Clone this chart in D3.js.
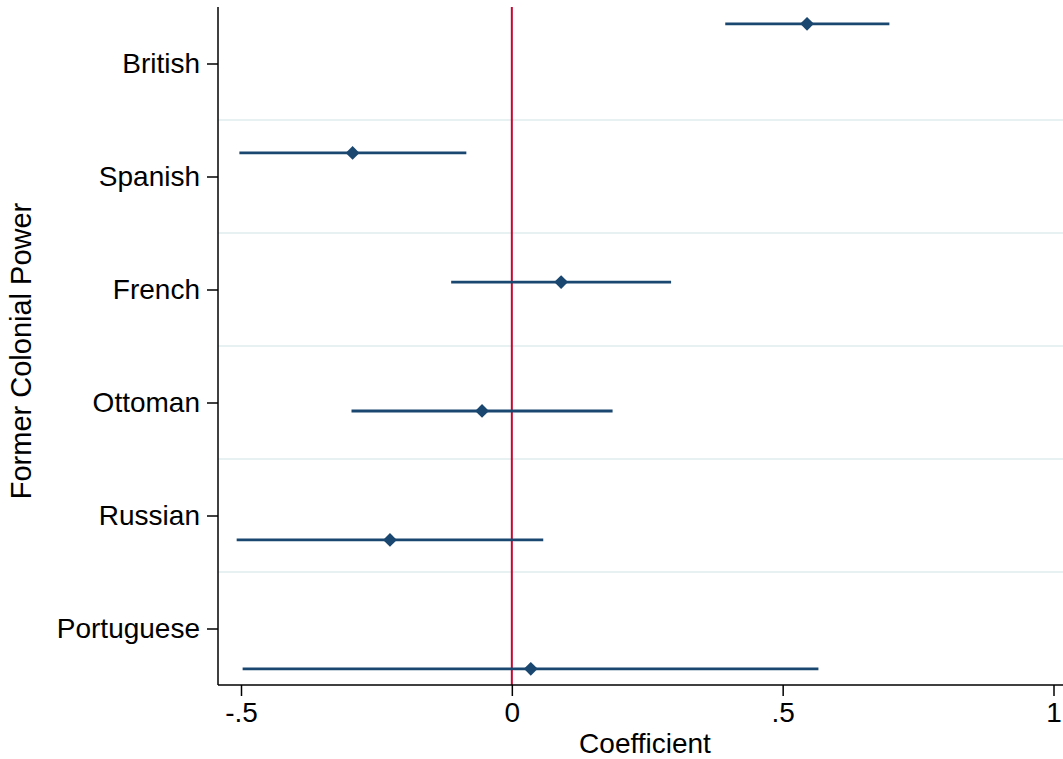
<!DOCTYPE html>
<html>
<head>
<meta charset="utf-8">
<script src="https://cdn.jsdelivr.net/npm/d3@7"></script>
<style>
  body { margin: 0; background: #fff; }
  text { font-family: "Liberation Sans", Arial, sans-serif; fill: #000; }
</style>
</head>
<body>
<script>
// colonial power categories, top to bottom
var categories = ["British", "Spanish", "French", "Ottoman", "Russian", "Portuguese"];
// point estimates and 95% intervals
var coef  = [0.545, -0.294, 0.091, -0.055, -0.225, 0.035];
var lower = [0.394, -0.503, -0.112, -0.296, -0.508, -0.497];
var upper = [0.697, -0.084, 0.294, 0.186, 0.058, 0.566];
// vertical position of each estimate on the category axis
var rowPos = [0.649, 1.791, 2.934, 4.075, 5.216, 6.357];
var xTicks = [-0.5, 0, 0.5, 1];
var xTickLabels = ["-.5", "0", ".5", "1"];
var gridPos = [1.5, 2.5, 3.5, 4.5, 5.5];

var width = 1063, height = 759;
var plotLeft = 218, plotRight = 1063, plotTop = 7, plotBottom = 685;

var svg = d3.select("body").append("svg")
    .attr("width", width)
    .attr("height", height);

var x = d3.scaleLinear().domain([-0.5, 1]).range([241, 1053.5]);
var y = d3.scaleLinear().domain([0.5, 6.5]).range([plotTop, plotBottom]);

// horizontal grid lines between categories
svg.selectAll(".grid")
    .data(gridPos)
    .enter().append("line")
    .attr("x1", plotLeft).attr("x2", plotRight)
    .attr("y1", function(d) { return y(d); })
    .attr("y2", function(d) { return y(d); })
    .attr("stroke", "#e8f1f2")
    .attr("stroke-width", 2.2);

// reference line at zero
svg.append("line")
    .attr("x1", x(0)).attr("x2", x(0))
    .attr("y1", plotTop).attr("y2", plotBottom)
    .attr("stroke", "#c4082f")
    .attr("stroke-width", 2);

// axes
var xAxis = d3.axisBottom(x)
    .tickValues(xTicks)
    .tickFormat(function(d, i) { return xTickLabels[i]; })
    .tickSize(11)
    .tickSizeOuter(0)
    .tickPadding(6);

var gx = svg.append("g")
    .attr("transform", "translate(0," + plotBottom + ")")
    .call(xAxis);
gx.select(".domain").attr("d", "M" + plotLeft + ",0H" + plotRight).attr("stroke-width", 1.5);
gx.selectAll(".tick line").attr("stroke-width", 1.5);
gx.selectAll(".tick text")
    .style("font-family", "Liberation Sans, Arial, sans-serif")
    .style("font-size", "28px")
    .attr("fill", "#000");

var yAxis = d3.axisLeft(y)
    .tickValues(d3.range(1, categories.length + 1))
    .tickFormat(function(d) { return categories[d - 1]; })
    .tickSize(11)
    .tickSizeOuter(0)
    .tickPadding(7);

var gy = svg.append("g")
    .attr("transform", "translate(" + plotLeft + ",0)")
    .call(yAxis);
gy.select(".domain").attr("d", "M0," + plotTop + "V" + plotBottom).attr("stroke-width", 1.5);
gy.selectAll(".tick line").attr("stroke-width", 1.5);
gy.selectAll(".tick text")
    .style("font-family", "Liberation Sans, Arial, sans-serif")
    .style("font-size", "28px")
    .attr("fill", "#000");

// confidence intervals
svg.selectAll(".ci")
    .data(categories)
    .enter().append("line")
    .attr("x1", function(d, i) { return x(lower[i]); })
    .attr("x2", function(d, i) { return x(upper[i]); })
    .attr("y1", function(d, i) { return y(rowPos[i]); })
    .attr("y2", function(d, i) { return y(rowPos[i]); })
    .attr("stroke", "#1a476f")
    .attr("stroke-width", 2.8);

// point estimates as diamonds
svg.selectAll(".pt")
    .data(categories)
    .enter().append("path")
    .attr("d", d3.symbol().type(d3.symbolSquare).size(95))
    .attr("transform", function(d, i) {
        return "translate(" + x(coef[i]) + "," + y(rowPos[i]) + ") rotate(45)";
    })
    .attr("fill", "#1a476f");

// axis titles
svg.append("text")
    .attr("x", 645).attr("y", 753)
    .attr("text-anchor", "middle")
    .style("font-size", "28px")
    .text("Coefficient");

svg.append("text")
    .attr("transform", "translate(31,351) rotate(-90)")
    .attr("text-anchor", "middle")
    .style("font-size", "29px")
    .text("Former Colonial Power");
</script>
</body>
</html>
